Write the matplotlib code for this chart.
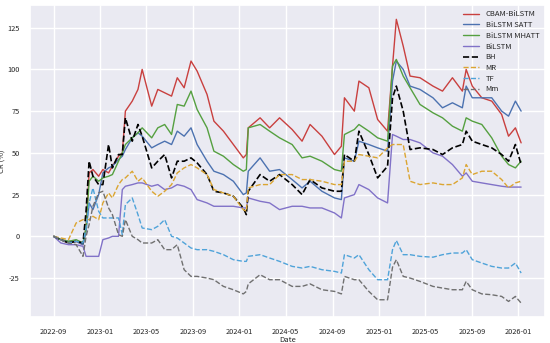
import pandas as pd
import matplotlib
matplotlib.use("Agg")
import matplotlib.pyplot as plt
import matplotlib.dates as mdates
import seaborn as sns

sns.set_theme(style="darkgrid")
plt.rcParams['font.family'] = ['Noto Sans CJK SC', 'DejaVu Sans']
plt.rcParams['axes.unicode_minus'] = False

# sample dates
dates = pd.to_datetime([
    "2022-09-01", "2022-09-20", "2022-10-10", "2022-10-30", "2022-11-17", "2022-11-25",
    "2022-12-03", "2022-12-13", "2022-12-28", "2023-01-08", "2023-01-23", "2023-02-02",
    "2023-02-18", "2023-02-28", "2023-03-08", "2023-03-26", "2023-04-10", "2023-04-21",
    "2023-05-16", "2023-06-01", "2023-06-19", "2023-07-07", "2023-07-22", "2023-08-09",
    "2023-08-27", "2023-09-12", "2023-10-08", "2023-10-26", "2023-11-20", "2023-12-16",
    "2024-01-11", "2024-01-19", "2024-01-24", "2024-02-24", "2024-03-20", "2024-04-15",
    "2024-05-18", "2024-06-13", "2024-07-04", "2024-08-04", "2024-09-06", "2024-09-24",
    "2024-10-02", "2024-10-28", "2024-11-09", "2024-12-05", "2024-12-28", "2025-01-23",
    "2025-02-05", "2025-02-15", "2025-03-05", "2025-03-23", "2025-04-18", "2025-05-22",
    "2025-06-16", "2025-07-12", "2025-08-07", "2025-08-17", "2025-09-02", "2025-09-27",
    "2025-10-23", "2025-11-18", "2025-12-06", "2025-12-24", "2026-01-08",
])

# CR (%) for each strategy
cbam_bilstm = [0, -2, -4, -3, -5, 5, 38, 40, 36, 40, 38, 42, 48, 50, 75, 81, 88, 100,
               78, 88, 86, 84, 95, 89, 105, 99, 85, 69, 63, 55, 47, 49, 65, 71, 65, 71,
               64, 57, 67, 60, 49, 54, 83, 75, 93, 89, 70, 63, 102, 130, 114, 96, 95, 90,
               87, 95, 87, 100, 90, 83, 81, 73, 60, 65, 56]
bilstm_satt = [0, -2, -3, -3, -5, 3, 20, 16, 25, 38, 41, 42, 46, 48, 52, 59, 62, 60,
               53, 55, 57, 55, 63, 60, 65, 55, 45, 39, 37, 33, 25, 26, 39, 47, 39, 40,
               34, 29, 33, 27, 23, 22, 47, 45, 57, 55, 53, 51, 93, 105, 100, 90, 88, 83,
               77, 80, 77, 90, 83, 83, 83, 75, 72, 81, 75]
bilstm_mhatt = [0, -2, -3, -2, -4, 5, 33, 36, 33, 35, 36, 37, 45, 50, 55, 59, 62, 65,
                59, 65, 67, 61, 79, 78, 87, 76, 65, 51, 48, 43, 39, 40, 65, 67, 63, 59,
                55, 47, 48, 45, 40, 39, 61, 64, 67, 63, 59, 57, 102, 106, 96, 89, 79, 74,
                71, 66, 63, 71, 69, 67, 59, 48, 43, 41, 45]
bilstm = [0, -4, -5, -5, -6, -12, -12, -12, -12, -2, -1, 0, 0, 28, 30, 31, 32, 32,
          30, 31, 28, 29, 31, 30, 28, 22, 20, 18, 18, 18, 17, 17, 23, 21, 20, 16,
          18, 18, 17, 17, 14, 11, 23, 25, 31, 28, 23, 20, 61, 60, 58, 58, 56, 50,
          48, 43, 36, 38, 33, 32, 31, 30, 29.5, 29.5, 29.5]
bh = [0, -2, -4, -3, -4, 15, 45, 36, 31, 31, 55, 41, 49, 49, 71, 57, 67, 60,
      41, 45, 49, 35, 45, 45, 47, 44, 37, 27, 26, 24, 17, 13, 27, 37, 33, 37,
      31, 25, 34, 29, 27, 27, 49, 45, 63, 49, 35, 42, 83, 90, 75, 52, 53, 52,
      49, 53, 55, 63, 57, 55, 53, 49, 45, 55, 43]
mr = [0, -1, -2, 8, 10, 10, 10, 12, 10, 20, 26, 23, 31, 34, 35, 39, 33, 35,
      27, 24, 27, 31, 38, 41, 43, 41, 37, 28, 26, 24, 16, 15, 29, 31, 31, 37,
      37, 34, 34, 33, 31, 31, 45, 45, 49, 48, 47, 53, 55, 55, 55, 33, 31, 32,
      31, 31, 35, 43, 37, 39, 39, 34, 29, 32, 33]
tf = [0, -2, -4, -3, -4, 5, 20, 29, 15, 11, 11, 11, 11, 1, 19, 23, 13, 5,
      4, 6, 10, 0, -1, -4, -7, -8, -8, -9, -11, -14, -15, -15, -12, -11, -13, -15,
      -18, -19, -18, -20, -21, -22, -11, -13, -11, -20, -26, -26, -8, -2.5, -11, -11, -12, -12.5,
      -11, -10, -10, -8, -14, -16, -18, -19, -19, -16, -22]
mm = [0, -2, -4, -5, -12, 0, 7, 18, 26, 27, 17, 13, 1, 0, 10, 0, -2, -4,
      -4, -2, -8, -8, -5, -20, -24, -24, -25, -26, -30, -32, -34.5, -33, -28.5, -23, -26, -26,
      -30, -30, -28.5, -32, -33, -34.5, -24, -26, -26, -33, -38, -38, -18.5, -14, -24, -25, -27, -30,
      -31, -32, -32, -27, -32, -34.5, -35, -36, -39, -36, -40]

fig, ax = plt.subplots(figsize=(5.5, 3.43), dpi=100)

ax.plot(dates, cbam_bilstm, color="#c9403f", lw=1.0, label="CBAM-BiLSTM")
ax.plot(dates, bilstm_satt, color="#4c72b0", lw=1.0, label="BiLSTM SATT")
ax.plot(dates, bilstm_mhatt, color="#55a040", lw=1.0, label="BiLSTM MHATT")
ax.plot(dates, bilstm, color="#8172c8", lw=1.0, label="BiLSTM")
ax.plot(dates, bh, color="black", lw=1.2, ls="--", label="BH")
ax.plot(dates, mr, color="#dba531", lw=1.0, ls="--", label="MR")
ax.plot(dates, tf, color="#4fa3d9", lw=1.0, ls="--", label="TF")
ax.plot(dates, mm, color="#707070", lw=1.0, ls="--", label="Mm")

ax.xaxis.set_major_locator(mdates.MonthLocator(bymonth=[1, 5, 9]))
ax.xaxis.set_major_formatter(mdates.DateFormatter("%Y-%m"))
ax.set_yticks([-25, 0, 25, 50, 75, 100, 125])
ax.tick_params(labelsize=5.3, pad=1.5)
ax.set_xlabel("Date", fontsize=5.5, labelpad=0.5)
ax.set_ylabel("CR (%)", fontsize=5.5, labelpad=0.5)

ax.legend(loc="upper right", fontsize=5.5, frameon=False, handlelength=2.2,
          labelspacing=0.35, borderaxespad=0.3)

plt.subplots_adjust(left=0.055, right=0.99, top=0.985, bottom=0.075)
plt.savefig("out.png", dpi=100)
